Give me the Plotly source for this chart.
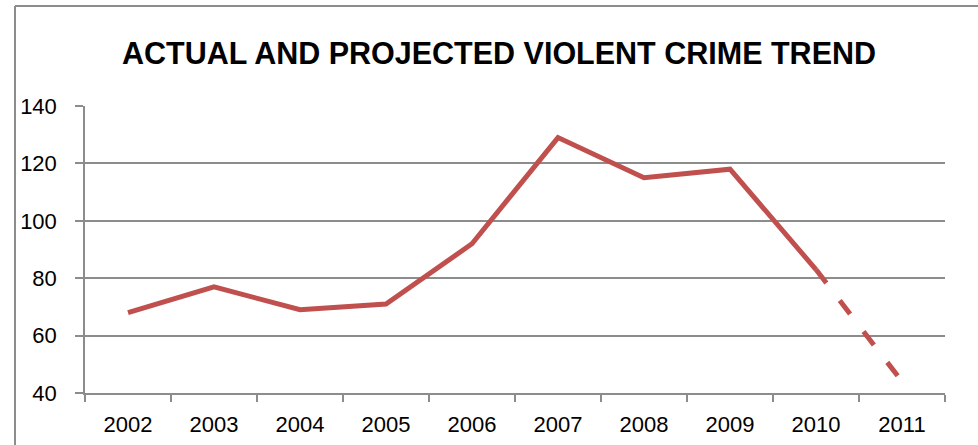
import plotly.graph_objects as go

years = ["2002", "2003", "2004", "2005", "2006", "2007", "2008", "2009", "2010", "2011"]
actual = [68, 77, 69, 71, 92, 129, 115, 118, 83, None]
projected = [None, None, None, None, None, None, None, None, 83, 44]
y_ticks = [40, 60, 80, 100, 120, 140]

RED = "#C0504D"
GRID = "#8C8C8C"
FONT = "Liberation Sans"

fig = go.Figure()
fig.add_trace(go.Scatter(x=years, y=actual, mode="lines",
                         line=dict(color=RED, width=5), showlegend=False,
                         connectgaps=False))
fig.add_trace(go.Scatter(x=years, y=projected, mode="lines",
                         line=dict(color=RED, width=5, dash="17px,22px"),
                         showlegend=False))

W, H = 978, 445
L, R, T, B = 85, 33, 106, 52
pw, ph = W - L - R, H - T - B
fx = lambda px: (px - L) / pw
fy = lambda py: (H - B - py) / ph

fig.update_layout(
    width=W, height=H,
    margin=dict(l=L, r=R, t=T, b=B, autoexpand=False),
    paper_bgcolor="white", plot_bgcolor="white",
    font=dict(family=FONT, size=22, color="black"),
    title=dict(text="<b>ACTUAL AND PROJECTED VIOLENT CRIME TREND</b>",
               font=dict(family=FONT, size=30.5, color="black"),
               x=fx(499), xref="paper", xanchor="center",
               y=1 - 53 / H, yref="container", yanchor="middle"),
    xaxis=dict(type="category", range=[-0.5, 9.5], showgrid=False,
               automargin=False,
               showline=True, linecolor=GRID, linewidth=1.5,
               ticks="outside", tickson="boundaries", ticklen=7,
               tickcolor=GRID, tickwidth=1.5, ticklabelstandoff=11,
               tickfont=dict(size=22)),
    yaxis=dict(range=[40, 140], tickvals=y_ticks, showgrid=True,
               automargin=False,
               gridcolor=GRID, gridwidth=1.5, zeroline=False,
               showline=True, linecolor=GRID, linewidth=1.5,
               ticks="outside", ticklen=8, tickcolor=GRID, tickwidth=1.5,
               ticklabelstandoff=14, tickfont=dict(size=22)),
    shapes=[
        dict(type="line", xref="paper", yref="paper",
             x0=fx(15), y0=fy(6), x1=fx(990), y1=fy(6),
             line=dict(color=GRID, width=2)),
        dict(type="line", xref="paper", yref="paper",
             x0=fx(15), y0=fy(6), x1=fx(15), y1=fy(460),
             line=dict(color=GRID, width=2)),
    ],
)

fig.write_html("out.html", config={"displayModeBar": False},
               post_script="document.body.style.margin='0px';document.body.style.padding='0px';")
